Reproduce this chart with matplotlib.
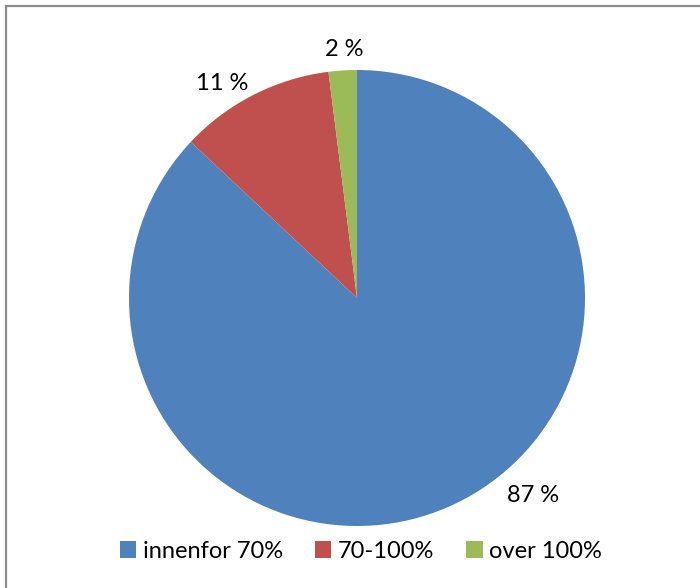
import matplotlib
matplotlib.use("Agg")
import matplotlib.pyplot as plt
from matplotlib.lines import Line2D
from matplotlib.patches import Patch

plt.rcParams["font.family"] = ["Lato", "DejaVu Sans"]

categories = ["innenfor 70%", "70-100%", "over 100%"]
shares = [87, 11, 2]
pct_labels = ["87 %", "11 %", "2 %"]
colors = ["#4F81BD", "#C0504D", "#9BBB59"]

# label spots in pie-radius units (Excel "best fit" placement)
label_xy = [(0.772, -0.868), (-0.592, 0.939), (-0.057, 1.088)]

W, H = 700, 588
fig = plt.figure(figsize=(W / 100, H / 100), dpi=100)

cx, cy, r = 357, 298, 228
ax = fig.add_axes([(cx - r) / W, (H - cy - r) / H, 2 * r / W, 2 * r / H])
ax.pie(shares, colors=colors, startangle=90, counterclock=False,
       radius=1, wedgeprops=dict(linewidth=0))
ax.set_xlim(-1, 1)
ax.set_ylim(-1, 1)
ax.set_aspect("equal")
ax.axis("off")

for txt, (x, y) in zip(pct_labels, label_xy):
    ax.text(x, y, txt, ha="center", va="center", fontsize=17, color="#000000")

handles = [Patch(facecolor=c, edgecolor="none") for c in colors]
fig.legend(handles, categories, loc="center", bbox_to_anchor=(361 / W, 1 - 551 / H),
           ncol=3, frameon=False, fontsize=17, handlelength=0.7, handleheight=0.7,
           handletextpad=0.28, columnspacing=1.35)

# chart area border (only top/left visible in the crop)
x0, y0 = 5.5 / W, 1 - 5.5 / H
fig.add_artist(Line2D([x0, x0], [0, y0], transform=fig.transFigure, color="#8c8c8c", lw=1.6))
fig.add_artist(Line2D([x0, 1], [y0, y0], transform=fig.transFigure, color="#8c8c8c", lw=1.6))

fig.savefig("out.png", dpi=100)
